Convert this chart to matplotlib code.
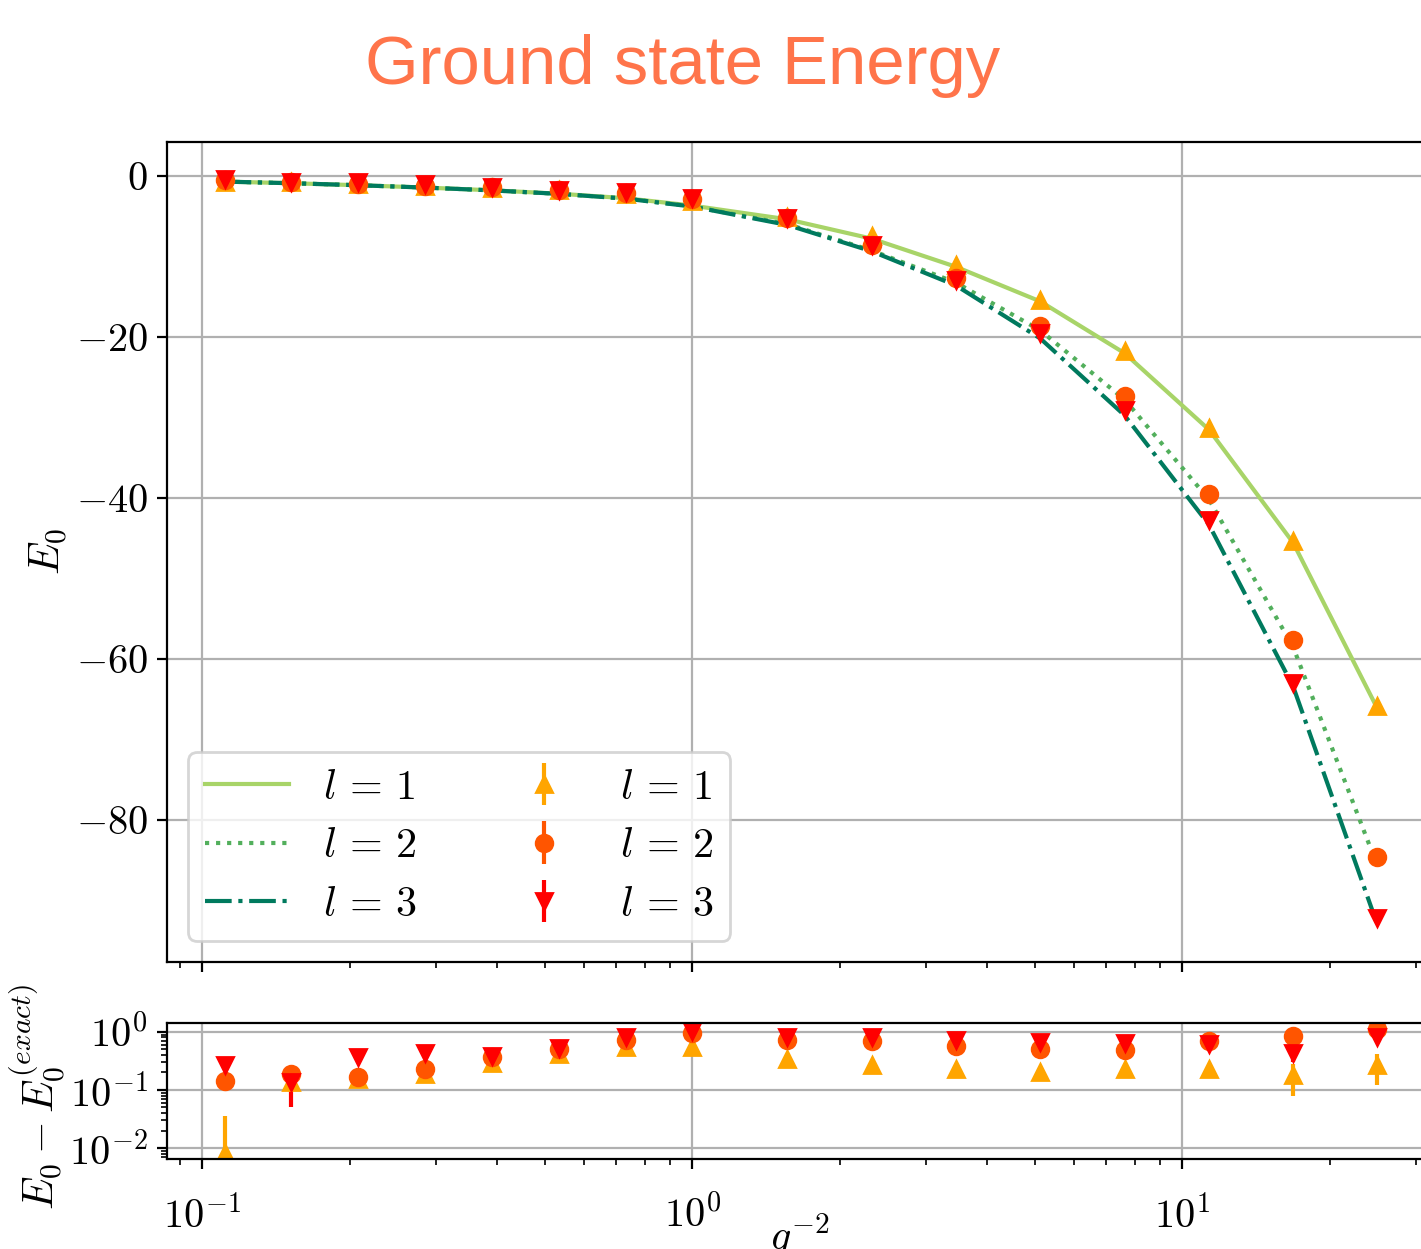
import matplotlib
matplotlib.use("Agg")
import matplotlib.pyplot as plt

plt.rcParams.update({
    "font.family": "serif",
    "font.serif": ["cmr10"],
    "mathtext.fontset": "cm",
    "axes.formatter.use_mathtext": True,
    "font.size": 14.5,
})

# ---------------- data ----------------
g_inv2 = [0.1111, 0.1521, 0.2082, 0.2850, 0.3901, 0.5340, 0.7310, 1.0,
          1.5625, 2.322, 3.451, 5.129, 7.622, 11.33, 16.83, 25.0]

E_exact_l1 = [-0.72, -0.92, -1.17, -1.46, -1.80, -2.22, -2.78, -3.70,
              -5.40, -7.80, -11.30, -15.60, -22.03, -31.53, -45.58, -66.17]
E_exact_l2 = [-0.72, -0.92, -1.17, -1.46, -1.81, -2.24, -2.82, -3.80,
              -6.00, -9.27, -13.26, -19.20, -27.79, -40.19, -58.54, -85.70]
E_exact_l3 = [-0.72, -0.92, -1.17, -1.46, -1.81, -2.24, -2.83, -3.82,
              -6.10, -9.37, -13.62, -20.20, -29.75, -43.33, -63.43, -93.02]

E_vqe_l1 = [-0.712, -0.785, -1.016, -1.27, -1.51, -1.80, -2.23, -3.15,
            -5.06, -7.53, -11.07, -15.40, -21.80, -31.30, -45.40, -65.90]
E_vqe_l2 = [-0.576, -0.732, -1.005, -1.23, -1.44, -1.73, -2.09, -2.84,
            -5.27, -8.57, -12.70, -18.69, -27.30, -39.50, -57.70, -84.60]
E_vqe_l3 = [-0.45, -0.785, -0.803, -1.03, -1.42, -1.71, -2.03, -2.78,
            -5.30, -8.57, -12.90, -19.53, -29.10, -42.70, -63.00, -92.20]

diff_l1 = [0.0082, 0.135, 0.154, 0.19, 0.29, 0.42, 0.55, 0.55,
           0.34, 0.27, 0.23, 0.20, 0.23, 0.23, 0.18, 0.27]
diff_l2 = [0.144, 0.188, 0.165, 0.23, 0.37, 0.51, 0.73, 0.96,
           0.73, 0.70, 0.56, 0.51, 0.49, 0.69, 0.84, 1.10]
diff_l3 = [0.27, 0.135, 0.367, 0.43, 0.39, 0.53, 0.80, 1.04,
           0.80, 0.80, 0.72, 0.67, 0.65, 0.63, 0.43, 0.82]

err_l1 = [0.027, 0.01, 0.008, 0.008, 0.008, 0.008, 0.008, 0.008,
          0.008, 0.008, 0.008, 0.008, 0.008, 0.03, 0.10, 0.15]
err_l2 = [0.008, 0.01, 0.008, 0.008, 0.008, 0.008, 0.008, 0.008,
          0.008, 0.008, 0.008, 0.008, 0.008, 0.01, 0.01, 0.02]
err_l3 = [0.01, 0.085, 0.01, 0.01, 0.01, 0.01, 0.01, 0.01,
          0.01, 0.01, 0.01, 0.01, 0.01, 0.02, 0.13, 0.02]

labels = [r"$l\,=\,1$", r"$l\,=\,2$", r"$l\,=\,3$"]
line_colors = ["#a8d468", "#52af5c", "#007a5e"]
line_styles = ["-", ":", "-."]
pt_colors = ["#ffa500", "#ff5500", "#ff0000"]
pt_markers = ["^", "o", "v"]

# ---------------- figure ----------------
W, H = 1421, 1249
fig = plt.figure(figsize=(W / 200, H / 200), dpi=200)
ax1 = fig.add_axes([167 / W, 1 - 962 / H, (1435 - 167) / W, (962 - 142) / H])
ax2 = fig.add_axes([167 / W, 1 - 1159 / H, (1435 - 167) / W, (1159 - 1023) / H],
                   sharex=ax1)

exacts = [E_exact_l1, E_exact_l2, E_exact_l3]
vqes = [E_vqe_l1, E_vqe_l2, E_vqe_l3]
diffs = [diff_l1, diff_l2, diff_l3]
errs = [err_l1, err_l2, err_l3]

for i in range(3):
    ax1.plot(g_inv2, exacts[i], linestyle=line_styles[i], color=line_colors[i],
             label=labels[i])
for i in range(3):
    ax1.errorbar(g_inv2, vqes[i], yerr=errs[i], fmt=pt_markers[i],
                 color=pt_colors[i], label=labels[i])
for i in range(3):
    ax2.errorbar(g_inv2, diffs[i], yerr=errs[i], fmt=pt_markers[i],
                 color=pt_colors[i])

ax1.set_xscale("log")
ax2.set_yscale("log")
ax1.set_xlim(10 ** -1.0718, 10 ** 1.5155)
ax1.set_ylim(-97.65, 4.2)
ax2.set_ylim(0.0065, 1.42)

ax1.grid(True)
ax2.grid(True)
ax1.tick_params(labelbottom=False)
ax2.tick_params(axis="x", which="major", pad=9.5)

ax1.set_ylabel("$E_0$", fontsize=15.2, labelpad=2)
ax2.set_ylabel(r"$E_0\:-\:E_0^{(exact)}$", fontsize=15.2)
ax2.yaxis.set_label_coords((68 - 167) / (1435 - 167), (1159 - 1097) / (1159 - 1023))
ax2.set_xlabel("$g^{-2}$", fontsize=15.2)
ax2.xaxis.set_label_coords((800 - 167) / (1435 - 167), -(1211 - 1159) / (1159 - 1023))

ax1.legend(ncol=2, loc="lower left", fontsize=15.2)

fig.text(683 / W, 1 - 66 / H, "Ground state Energy", ha="center", va="center",
         fontsize=24.8, color="#ff744a", family="Liberation Sans")

fig.savefig("out.png", dpi=200)
